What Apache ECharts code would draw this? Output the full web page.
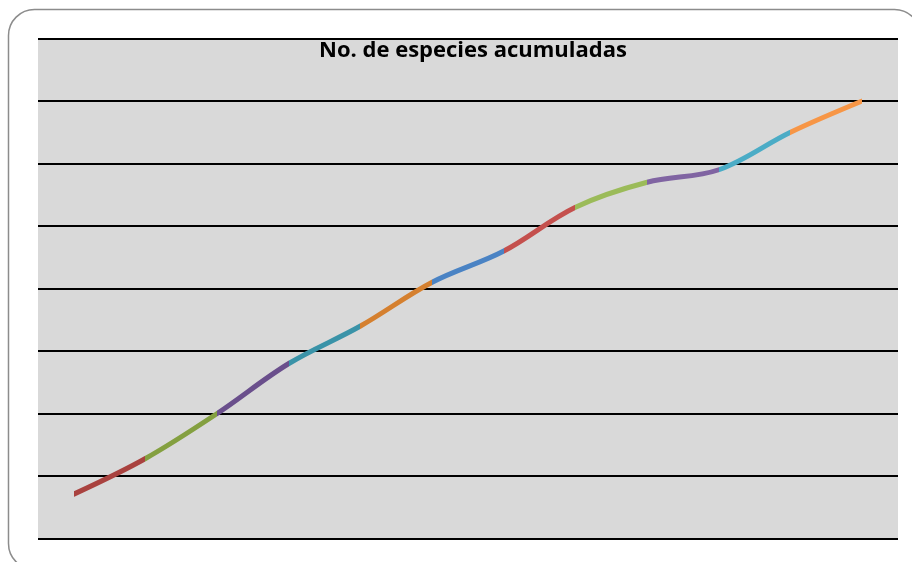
<!DOCTYPE html>
<html>
<head>
<meta charset="utf-8">
<title>No. de especies acumuladas</title>
<script src="https://cdn.jsdelivr.net/npm/echarts@6/dist/echarts.min.js"></script>
<style>
  html, body { margin: 0; padding: 0; background: #fff; }
  #chart { width: 912px; height: 562px; }
</style>
</head>
<body>
<div id="chart"></div>
<script>
// muestreos (sin etiquetas visibles en el original)
const muestreos = ["1", "2", "3", "4", "5", "6", "7", "8", "9", "10", "11", "12"];
// especies acumuladas por muestreo
const especiesAcumuladas = [7.1, 12.8, 20, 28, 34, 41, 46, 53, 57, 59, 65, 70];
// color de cada tramo (varía por punto, como en Excel)
const coloresTramo = [
  "#A9423F", "#84A040", "#6A4F8C", "#3A93A8", "#D5802F", "#4A83C4",
  "#C4504D", "#9BBB59", "#8064A2", "#4BACC6", "#F79646"
];

const chart = echarts.init(document.getElementById("chart"));

const pieces = coloresTramo.map((c, i) => {
  const p = { gte: i, color: c };
  if (i < coloresTramo.length - 1) p.lt = i + 1;
  else p.lte = i + 1;
  return p;
});

const option = {
  animation: false,
  backgroundColor: "#fff",
  title: {
    text: "No. de especies acumuladas",
    left: 468,
    textAlign: "center",
    top: 35,
    textStyle: {
      fontFamily: "Open Sans",
      fontWeight: "bold",
      fontSize: 22,
      color: "#000"
    }
  },
  graphic: [
    {
      type: "rect",
      z: -10,
      shape: { x: 8.5, y: 9.5, width: 912, height: 560, r: 26 },
      style: { fill: null, stroke: "#8c8c8c", lineWidth: 1.5 }
    }
  ],
  grid: {
    left: 38,
    right: 14,
    top: 38.5,
    bottom: 23.5,
    show: true,
    backgroundColor: "#d9d9d9",
    borderWidth: 0
  },
  xAxis: {
    type: "category",
    data: muestreos,
    boundaryGap: true,
    axisLine: { show: false },
    axisTick: { show: false },
    axisLabel: { show: false },
    splitLine: { show: false }
  },
  yAxis: {
    type: "value",
    min: 0,
    max: 80,
    interval: 10,
    axisLine: { show: false },
    axisTick: { show: false },
    axisLabel: { show: false },
    splitLine: { show: true, lineStyle: { color: "#000", width: 2 } }
  },
  visualMap: {
    show: false,
    type: "piecewise",
    dimension: 0,
    seriesIndex: 0,
    pieces: pieces
  },
  series: [
    {
      name: "No. de especies acumuladas",
      type: "line",
      data: especiesAcumuladas,
      smooth: 0.35,
      showSymbol: false,
      symbol: "none",
      lineStyle: { width: 5, cap: "round", join: "round" }
    }
  ]
};

chart.setOption(option);
</script>
</body>
</html>
